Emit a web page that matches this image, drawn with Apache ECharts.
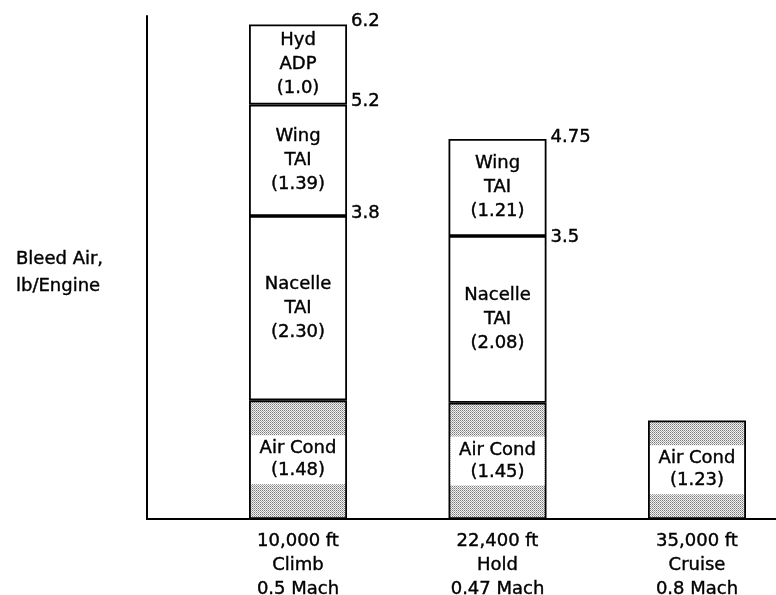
<!DOCTYPE html>
<html>
<head>
<meta charset="utf-8">
<title>Bleed Air</title>
<script src="https://cdn.jsdelivr.net/npm/echarts@6/dist/echarts.min.js"></script>
<style>
  html, body { margin: 0; padding: 0; background: #fff; }
  #chart { width: 776px; height: 595px; }
</style>
</head>
<body>
<div id="chart"></div>
<script>
// flight conditions (x axis)
var categories = ['10,000 ft\nClimb\n0.5 Mach', '22,400 ft\nHold\n0.47 Mach', '35,000 ft\nCruise\n0.8 Mach']
// bleed air per engine, each segment of the stack
var airCond = [1.48, 1.45, 1.23]
var nacelleTai = [2.30, 2.08, null]
var wingTai = [1.39, 1.21, null]
var hydAdp = [1.0, null, null]
// running totals written beside the bars
var climbTotals = [3.8, 5.2, 6.2]
var holdTotals = [3.5, 4.75]

var FONT = "'DejaVu Sans', sans-serif"
var INK = '#000'
// a thin outline makes the text a bit heavier, like the printed original
var heavy = { textBorderColor: INK, textBorderWidth: 0.4 }

// stipple fill for the air conditioning block
var dots = document.createElement('canvas')
dots.width = 2
dots.height = 2
var g = dots.getContext('2d')
g.fillStyle = '#f0f0f0'
g.fillRect(0, 0, 2, 2)
g.fillStyle = '#7c7c7c'
g.fillRect(0, 0, 1, 1)
g.fillStyle = '#a8a8a8'
g.fillRect(1, 1, 1, 1)

// value x axis is used so the bars can sit where the original has them,
// values go first so the stack is done on y
function pairs (arr) {
  return arr.map(function (v, i) { return [v, i] })
}

function segment (name, arr, decimals, fill) {
  return {
    name: name,
    type: 'bar',
    stack: 'bleed',
    barWidth: 98,
    encode: { x: 1, y: 0 },
    data: pairs(arr),
    itemStyle: { color: fill || '#fff', borderColor: INK, borderWidth: 1.8 },
    emphasis: { disabled: true },
    label: Object.assign({
      show: true,
      position: 'inside',
      color: INK,
      fontFamily: FONT,
      fontSize: 18,
      lineHeight: 24,
      formatter: function (p) {
        return name + '\n(' + arr[p.dataIndex].toFixed(decimals) + ')'
      }
    }, heavy)
  }
}

var totals = climbTotals.map(function (v) { return [0, v] })
  .concat(holdTotals.map(function (v) { return [1, v] }))

var airSeries = segment('Air Cond', airCond, 2, { image: dots, repeat: 'repeat' })
airSeries.label.backgroundColor = '#fff'
airSeries.label.width = 94
airSeries.label.lineHeight = 22
airSeries.label.padding = [3, 0, 2, 0]

var option = {
  animation: false,
  backgroundColor: '#fff',
  title: {
    text: 'Bleed Air,\nlb/Engine',
    left: 11,
    top: 241,
    textStyle: Object.assign({ fontFamily: FONT, fontSize: 18, fontWeight: 'normal', lineHeight: 27, color: INK }, heavy)
  },
  grid: { left: 147, right: 0, top: 16, bottom: 76, outerBoundsMode: 'none' },
  xAxis: {
    type: 'value',
    min: -0.757,
    max: 2.396,
    splitLine: { show: false },
    axisTick: { show: false },
    axisLine: { show: true, lineStyle: { color: INK, width: 2 } },
    axisLabel: Object.assign({
      customValues: [0, 1, 2],
      margin: 10,
      color: INK,
      fontFamily: FONT,
      fontSize: 18,
      lineHeight: 24,
      formatter: function (v) { return categories[Math.round(v)] }
    }, heavy)
  },
  yAxis: {
    type: 'value',
    min: 0,
    max: 6.275,
    splitLine: { show: false },
    axisTick: { show: false },
    axisLabel: { show: false },
    axisLine: { show: true, onZero: false, lineStyle: { color: INK, width: 2 } }
  },
  series: [
    airSeries,
    segment('Nacelle\nTAI', nacelleTai, 2),
    segment('Wing\nTAI', wingTai, 2),
    segment('Hyd\nADP', hydAdp, 1),
    {
      type: 'scatter',
      data: totals,
      symbolSize: 0,
      silent: true,
      itemStyle: { opacity: 1 },
      label: Object.assign({
        show: true,
        position: 'right',
        distance: 53,
        offset: [0, -1],
        color: INK,
        fontFamily: FONT,
        fontSize: 18,
        formatter: function (p) { return String(p.value[1]) }
      }, heavy)
    }
  ]
}

var myChart = echarts.init(document.getElementById('chart'))
myChart.setOption(option)
</script>
</body>
</html>
